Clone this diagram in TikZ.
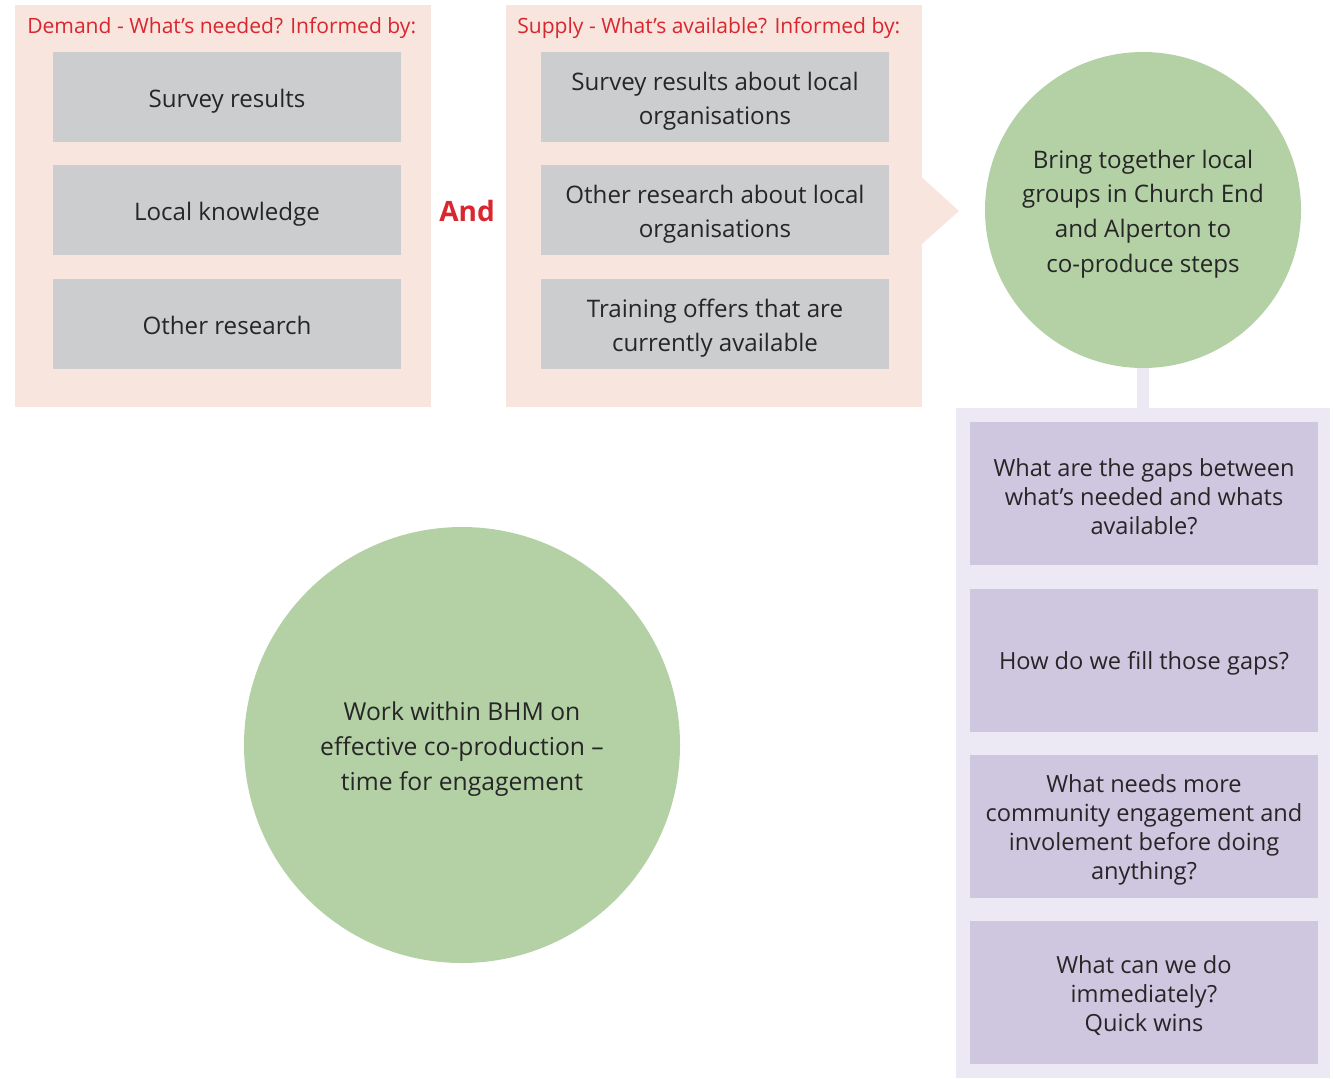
\documentclass[tikz,border=0pt]{standalone}
\usepackage{fontspec}
\setmainfont{Open Sans}
\definecolor{panelpink}{HTML}{F8E5DE}
\definecolor{boxgray}{HTML}{CBCDCF}
\definecolor{hdrred}{HTML}{D9262F}
\definecolor{circgreen}{HTML}{B3D1A5}
\definecolor{lavlight}{HTML}{ECE9F4}
\definecolor{lavbox}{HTML}{CFC6E0}
\definecolor{txt}{HTML}{262626}
\tikzset{
  panel/.style={fill=panelpink, draw=none, inner sep=0pt},
  boxtext/.style={align=center, text=txt, inner sep=0pt, yshift=-4*0.75pt},
  graybox/.style={fill=boxgray, draw=none, minimum width=348*0.75pt, minimum height=90*0.75pt, inner sep=0pt,
    label={[boxtext, font=\fontsize{18.1}{25.5}\selectfont]center:{#1}}},
  hdr/.style={text=hdrred, font=\fontsize{15.8}{20}\selectfont, anchor=west, inner sep=0pt},
  bigcirc/.style={circle, fill=circgreen, draw=none, inner sep=0pt},
  circtext/.style={boxtext, font=\fontsize{#1}{26}\selectfont},
  lavbox/.style={fill=lavbox, draw=none, minimum width=348*0.75pt, minimum height=143*0.75pt, inner sep=0pt,
    label={[boxtext, yshift=1*0.75pt, font=\fontsize{17.7}{21.8}\selectfont]center:{#1}}},
}
\begin{document}
\begin{tikzpicture}[x=0.75pt,y=-0.75pt]
\useasboundingbox (0,0) rectangle (1333,1078);
% panels
\node[panel, minimum width=416*0.75pt, minimum height=402*0.75pt] (dpanel) at (223,206) {};
\node[panel, minimum width=416*0.75pt, minimum height=402*0.75pt] (spanel) at (714,206) {};
% arrow
\coordinate (atop) at (895,153);
\coordinate (abot) at (895,268);
\coordinate (atip) at (959,211);
\fill[panelpink] (atop) -- (atip) -- (abot) -- cycle;
% headers
\node[hdr] (dhdr) at (27,28) {Demand - What’s needed? Informed by:};
\node[hdr] (shdr) at (517,28) {Supply - What’s available? Informed by:};
% demand boxes
\node[graybox={Survey results}] (d1) at (227,97) {};
\node[graybox={Local knowledge}] (d2) at (227,210) {};
\node[graybox={Other research\vphantom{y}}] (d3) at (227,324) {};
% And
\node[text=hdrred, font=\fontsize{21}{24}\selectfont\bfseries, inner sep=0pt] (and) at (467,211) {And};
% supply boxes
\node[graybox={Survey results about local\\organisations}] (s1) at (715,97) {};
\node[graybox={Other research about local\\organisations}] (s2) at (715,210) {};
\node[graybox={Training offers that are\\currently available}] (s3) at (715,324) {};
% lavender panel, circle and connector
\node[fill=lavlight, draw=none, minimum width=374*0.75pt, minimum height=670*0.75pt, inner sep=0pt] (lpanel) at (1143,743) {};
\node[bigcirc, minimum size=316*0.75pt] (c1) at (1143,210) {};
\node[circtext=18.1] (c1t) at (c1) {Bring together local\\groups in Church End\\and Alperton to\\co-produce steps};
\draw[lavlight, line width=12*0.75pt] (c1.south) -- (lpanel.north);
\node[lavbox={What are the gaps between\\what’s needed and whats\\available?}] (q1) at (1144,493.5) {};
\node[lavbox={How do we fill those gaps?}] (q2) at (1144,660.5) {};
\node[lavbox={What needs more\\community engagement and\\involement before doing\\anything?}] (q3) at (1144,826.5) {};
\node[lavbox={What can we do\\immediately?\\Quick wins}] (q4) at (1144,992.5) {};
% big circle
\node[bigcirc, minimum size=436*0.75pt] (c2) at (462,745) {};
\node[circtext=18.5] (c2t) at (c2) {Work within BHM on\\effective co-production –\\time for engagement};
\end{tikzpicture}
\end{document}
